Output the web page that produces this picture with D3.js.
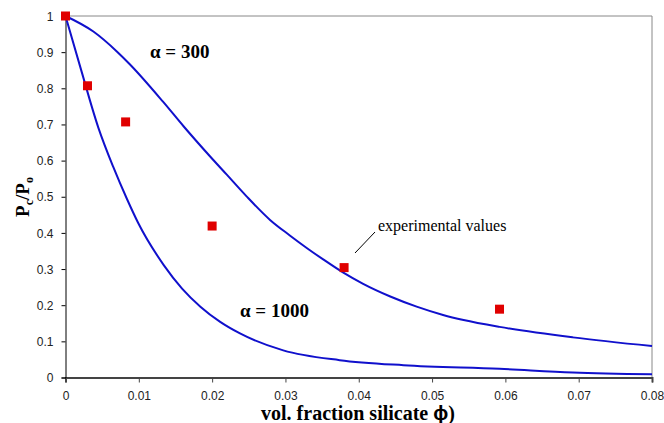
<!DOCTYPE html>
<html>
<head>
<meta charset="utf-8">
<script src="https://cdn.jsdelivr.net/npm/d3@7"></script>
<style>
  body { margin: 0; background: #fff; }
  .tick text { font-family: Arial, "Liberation Sans", sans-serif; font-size: 12px; fill: #222; }
  .note { font-family: "Liberation Serif", "Times New Roman", serif; }
</style>
</head>
<body>
<svg id="chart" width="664" height="423" viewBox="0 0 664 423"></svg>
<script>
// alpha = 300 curve
const phi300 = [0, 0.0038, 0.007, 0.0088, 0.0133, 0.0161, 0.0197, 0.022, 0.0247, 0.0279, 0.0306, 0.033, 0.0352, 0.0379, 0.0406, 0.0443, 0.0479, 0.0515, 0.0543, 0.0592, 0.0692, 0.08];
const pc300 = [1, 0.957, 0.902, 0.866, 0.763, 0.695, 0.612, 0.561, 0.501, 0.436, 0.393, 0.357, 0.326, 0.290, 0.259, 0.224, 0.196, 0.173, 0.159, 0.140, 0.111, 0.087];

// alpha = 1000 curve
const phi1000 = [0, 0.002, 0.0045, 0.0065, 0.0084, 0.0099, 0.0134, 0.0159, 0.0184, 0.0211, 0.0238, 0.0297, 0.0374, 0.0461, 0.0592, 0.0692, 0.08];
const pc1000 = [1, 0.860, 0.690, 0.583, 0.493, 0.428, 0.311, 0.246, 0.196, 0.154, 0.122, 0.075, 0.048, 0.034, 0.024, 0.014, 0.009];

// experimental values
const phiExp = [0, 0.003, 0.0082, 0.020, 0.038, 0.0592];
const pcExp = [1, 0.807, 0.707, 0.419, 0.304, 0.189];

const xTicks = [0, 0.01, 0.02, 0.03, 0.04, 0.05, 0.06, 0.07, 0.08];
const yTicks = [0, 0.1, 0.2, 0.3, 0.4, 0.5, 0.6, 0.7, 0.8, 0.9, 1];

const svg = d3.select('#chart');
const plotLeft = 65.5, plotRight = 652, plotTop = 16, plotBottom = 377.5;

const x = d3.scaleLinear().domain([0, 0.08]).range([plotLeft, plotRight]);
const y = d3.scaleLinear().domain([0, 1]).range([plotBottom, plotTop]);

// frame (top and right in grey)
svg.append('path')
    .attr('d', `M${plotLeft},${plotTop}H${plotRight}V${plotBottom}`)
    .attr('fill', 'none')
    .attr('stroke', '#888')
    .attr('stroke-width', 1);

// axes
const xAxis = svg.append('g')
    .attr('transform', `translate(0,${plotBottom})`)
    .call(d3.axisBottom(x).tickValues(xTicks).tickSize(5).tickPadding(9)
        .tickFormat(d => d === 0 ? '0' : d3.format('.2f')(d)));
xAxis.select('.domain').attr('stroke', '#444').attr('stroke-width', 2);
xAxis.selectAll('.tick line').attr('stroke', '#444');

const yAxis = svg.append('g')
    .attr('transform', `translate(${plotLeft},0)`)
    .call(d3.axisLeft(y).tickValues(yTicks).tickSize(4).tickPadding(8)
        .tickFormat(d => d === 0 || d === 1 ? String(d) : d3.format('.1f')(d)));
yAxis.select('.domain').attr('stroke', '#000');
yAxis.selectAll('.tick text').attr('dy', '0.35em');

// curves
const line = d3.line().x(d => x(d[0])).y(d => y(d[1])).curve(d3.curveMonotoneX);
[[phi300, pc300], [phi1000, pc1000]].forEach(([px, py]) => {
    svg.append('path')
        .datum(px.map((v, i) => [v, py[i]]))
        .attr('d', line)
        .attr('fill', 'none')
        .attr('stroke', '#1010cc')
        .attr('stroke-width', 2);
});

// experimental squares
const size = 9;
svg.append('g').selectAll('rect')
    .data(phiExp.map((v, i) => [v, pcExp[i]]))
    .enter()
    .append('rect')
    .attr('x', d => x(d[0]) - size / 2)
    .attr('y', d => y(d[1]) - size / 2)
    .attr('width', size)
    .attr('height', size)
    .attr('fill', '#e00000');

// curve labels
svg.append('text').classed('note', true)
    .attr('x', 150).attr('y', 58)
    .style('font-size', '19px').style('font-weight', 'bold')
    .text('α = 300');
svg.append('text').classed('note', true)
    .attr('x', 240).attr('y', 317)
    .style('font-size', '19px').style('font-weight', 'bold')
    .text('α = 1000');

// experimental values note with leader (text box clips the last letter)
svg.append('clipPath').attr('id', 'noteClip')
    .append('rect').attr('x', 370).attr('y', 210).attr('width', 139).attr('height', 30);
svg.append('text').classed('note', true)
    .attr('clip-path', 'url(#noteClip)')
    .attr('x', 378).attr('y', 231)
    .style('font-size', '16px')
    .text('experimental values');
svg.append('line')
    .attr('x1', 375).attr('y1', 232)
    .attr('x2', 355).attr('y2', 253)
    .attr('stroke', '#000').attr('stroke-width', 1);

// axis titles
const xt = svg.append('text').classed('note', true)
    .attr('x', 358).attr('y', 420)
    .attr('text-anchor', 'middle')
    .style('font-size', '20px').style('font-weight', 'bold');
xt.append('tspan').text('vol. fraction silicate ');
xt.append('tspan').style('font-family', 'Arial, "Liberation Sans", sans-serif').text('ϕ');
xt.append('tspan').text(')');

const yt = svg.append('text').classed('note', true)
    .attr('transform', 'translate(29,197) rotate(-90)')
    .attr('text-anchor', 'middle')
    .style('font-size', '19px').style('font-weight', 'bold');
yt.append('tspan').text('P');
yt.append('tspan').attr('dy', 4).style('font-size', '12px').text('c');
yt.append('tspan').attr('dy', -4).text('/P');
yt.append('tspan').attr('dy', 4).style('font-size', '12px').text('o');
</script>
</body>
</html>
